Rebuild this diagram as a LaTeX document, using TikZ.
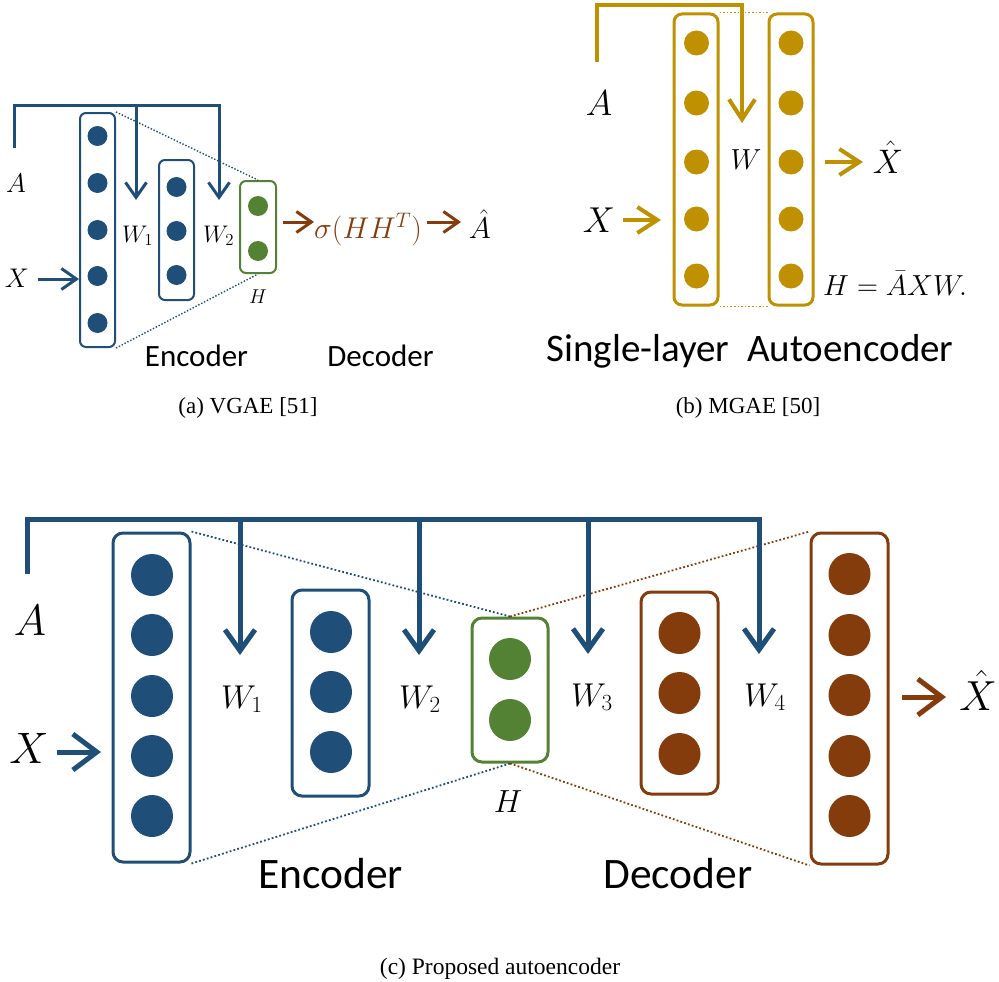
\RequirePackage{fix-cm}
\documentclass[tikz,border=0pt]{standalone}
\usepackage{fontspec}
\usetikzlibrary{arrows.meta}
\newfontfamily\labelfont{Carlito}
\newfontfamily\capfont{Liberation Serif}
\definecolor{nnblue}{RGB}{31,78,121}
\definecolor{nngreen}{RGB}{84,130,53}
\definecolor{nnbrown}{RGB}{132,60,12}
\definecolor{nngold}{RGB}{191,144,0}
\newcommand\fsz[1]{\fontsize{#1}{#1}\selectfont}

\tikzset{
  layerbox/.style={draw, rounded corners=#1, inner sep=0pt},
  unit/.style={circle, inner sep=0pt, draw=none},
  dotlink/.style={line width=1.8, dash pattern=on 1.8pt off 2.2pt},
  mlab/.style={inner sep=0pt, anchor=base},
  bus/.style={line join=miter, line cap=butt},
  tipa/.style={-{Straight Barb[length=15pt,width=21pt]}},
  tipb/.style={-{Straight Barb[length=20pt,width=26pt]}},
  tipc/.style={-{Straight Barb[length=21pt,width=30pt]}},
  tipcx/.style={-{Straight Barb[length=24pt,width=36pt]}},
}

\begin{document}
\begin{tikzpicture}[x=1pt,y=-1pt]
\useasboundingbox (0,0) rectangle (999,982);

% ---------------- (a) VGAE ----------------
\node[layerbox=6, nnblue, line width=2, minimum width=35, minimum height=234] (a1) at (97.5,230) {};
\foreach \yy in {136,183,230,276,323} \node[unit, fill=nnblue, minimum size=20] at (97.5,\yy) {};
\node[layerbox=6, nnblue, line width=2, minimum width=35, minimum height=140] (a2) at (176.5,230) {};
\foreach \yy in {187,231,275} \node[unit, fill=nnblue, minimum size=20] at (176.5,\yy) {};
\node[layerbox=6, nngreen, line width=2, minimum width=36, minimum height=92] (a3) at (258,227) {};
\foreach \yy in {206,251} \node[unit, fill=nngreen, minimum size=20] at (258,\yy) {};

\draw[dotlink, nnblue, line width=1.4, dash pattern=on 1.4pt off 1.8pt] (a1.north east) -- (a3.north);
\draw[dotlink, nnblue, line width=1.4, dash pattern=on 1.4pt off 1.8pt] (a1.south east) -- (a3.south);

\coordinate (aA) at (14,148);
\coordinate (aR) at (219,105);
\coordinate (aB1) at (136,105);
\coordinate (aT1) at (136,200);
\coordinate (aT2) at (219,200);
\draw[nnblue, line width=3, bus, tipa] (aA) |- (aR) -- (aT2);
\draw[nnblue, line width=3, bus, tipa] (aB1) -- (aT1);

\node[mlab] (aAl) at (16,192) {\fsz{27}$A$};
\node[mlab] (aXl) at (17,287) {\fsz{27}$X$};
\coordinate (aXs) at (38,279);
\draw[nnblue, line width=3, tipa] (aXs) -- (a1.west |- aXs);
\node[mlab, anchor=base west] (aW1) at (122,242) {\fsz{24}$W_1$};
\node[mlab, anchor=base west] (aW2) at (203,242) {\fsz{24}$W_2$};
\node[mlab] (aH) at (258,303) {\fsz{20}$H$};

\node[mlab, anchor=base west, nnbrown] (sig) at (314,238) {\fsz{30}$\sigma(HH^T)$};
\coordinate (aO1) at (283,222);
\draw[nnbrown, line width=3, tipa] (aO1) -- (sig.west |- aO1);
\node[mlab] (aAh) at (480,238) {\fsz{30}$\hat{A}$};
\coordinate (aO2) at (427,222);
\coordinate (aO3) at (461,222);
\draw[nnbrown, line width=3, tipa] (aO2) -- (aO3);

\node[mlab] (aEnc) at (196.5,366) {\labelfont\fsz{31}Encoder};
\node[mlab] (aDec) at (380.5,366) {\labelfont\fsz{31}Decoder};
\node[mlab] (capa) at (248,413) {\capfont\fsz{23}(a) VGAE [51]};

% ---------------- (b) MGAE ----------------
\node[layerbox=8, nngold, line width=3, minimum width=44, minimum height=291] (b1) at (696,159.5) {};
\node[layerbox=8, nngold, line width=3, minimum width=44, minimum height=291] (b2) at (791,159.5) {};
\foreach \yy in {43,103,162,219,276} {
  \node[unit, fill=nngold, minimum size=25] at (696.5,\yy) {};
  \node[unit, fill=nngold, minimum size=25] at (791,\yy) {};
}
\draw[dotlink, nngold, line width=1.6, dash pattern=on 1.6pt off 2pt] (b1.north east) -- (b2.north west);
\draw[dotlink, nngold, line width=1.6, dash pattern=on 1.6pt off 2pt] (b1.south east) -- (b2.south west);

\coordinate (bA) at (597,62);
\coordinate (bR) at (742,5);
\coordinate (bT) at (742,123);
\draw[nngold, line width=4, bus, tipb] (bA) |- (bR) -- (bT);

\node[mlab] (bAl) at (599,115) {\fsz{36}$A$};
\node[mlab] (bXl) at (599,232) {\fsz{36}$X$};
\coordinate (bXs) at (623,220);
\draw[nngold, line width=4, tipb] (bXs) -- (661,220);
\node[mlab] (bW) at (746,169) {\fsz{29}$W$};
\coordinate (bOs) at (825,162);
\coordinate (bOe) at (863,162);
\draw[nngold, line width=4, tipb] (bOs) -- (bOe);
\node[mlab] (bXh) at (888,173) {\fsz{34}$\hat{X}$};
\node[mlab, anchor=base west] (bH) at (823,295) {\fsz{29}$H=\bar{A}XW.$};

\node[mlab] (bSL) at (750,361) {\labelfont\fsz{39}Single-layer\hspace{0.45em}Autoencoder};
\node[mlab] (capb) at (748,413) {\capfont\fsz{23}(b) MGAE [50]};

% ---------------- (c) proposed ----------------
\node[layerbox=10, nnblue, line width=3, minimum width=77, minimum height=329] (c1) at (151.5,697.5) {};
\foreach \yy in {575,635,696,756,816} \node[unit, fill=nnblue, minimum size=42] at (152,\yy) {};
\node[layerbox=10, nnblue, line width=3, minimum width=77, minimum height=206] (c2) at (330.5,693) {};
\foreach \yy in {632,692,752} \node[unit, fill=nnblue, minimum size=42] at (331,\yy) {};
\node[layerbox=10, nngreen, line width=3, minimum width=76, minimum height=144] (c3) at (510,690) {};
\foreach \yy in {659,720} \node[unit, fill=nngreen, minimum size=42] at (510,\yy) {};
\node[layerbox=10, nnbrown, line width=3, minimum width=77, minimum height=202] (c4) at (679.5,693) {};
\foreach \yy in {633,693,754} \node[unit, fill=nnbrown, minimum size=42] at (679.5,\yy) {};
\node[layerbox=10, nnbrown, line width=3, minimum width=77, minimum height=331] (c5) at (849.5,698.5) {};
\foreach \yy in {574,635,695,756,816} \node[unit, fill=nnbrown, minimum size=42] at (849.5,\yy) {};

\draw[dotlink, nnblue] (c1.north east) -- (c3.north);
\draw[dotlink, nnblue] (c1.south east) -- (c3.south);
\draw[dotlink, nnbrown] (c3.north) -- (c5.north west);
\draw[dotlink, nnbrown] (c3.south) -- (c5.south west);

\coordinate (cA) at (27,574);
\coordinate (cR) at (759,519);
\coordinate (cB1) at (240,519);
\coordinate (cB2) at (419,519);
\coordinate (cB3) at (588,519);
\coordinate (cT1) at (240,655);
\coordinate (cT2) at (419,655);
\coordinate (cT3) at (588,654);
\coordinate (cT4) at (759,654);
\draw[nnblue, line width=5, bus, tipc] (cA) |- (cR) -- (cT4);
\draw[nnblue, line width=5, bus, tipc] (cB1) -- (cT1);
\draw[nnblue, line width=5, bus, tipc] (cB2) -- (cT2);
\draw[nnblue, line width=5, bus, tipc] (cB3) -- (cT3);

\node[mlab] (cAl) at (30,635) {\fsz{44}$A$};
\node[mlab] (cXl) at (29,763) {\fsz{44}$X$};
\coordinate (cXs) at (57,752);
\draw[nnblue, line width=5, tipcx] (cXs) -- (101,752);
\node[mlab, anchor=base west] (cW1) at (221,708) {\fsz{33}$W_1$};
\node[mlab, anchor=base west] (cW2) at (399,708) {\fsz{33}$W_2$};
\node[mlab, anchor=base west] (cW3) at (571,706) {\fsz{33}$W_3$};
\node[mlab, anchor=base west] (cW4) at (744,706) {\fsz{33}$W_4$};
\node[mlab] (cH) at (508,812) {\fsz{32}$H$};
\coordinate (cOs) at (902,697);
\coordinate (cOe) at (946,697);
\draw[nnbrown, line width=5, tipcx] (cOs) -- (cOe);
\node[mlab] (cXh) at (978,710) {\fsz{42}$\hat{X}$};

\node[mlab] (cEnc) at (330.5,888) {\labelfont\fsz{43.5}Encoder};
\node[mlab] (cDec) at (678,888) {\labelfont\fsz{43.5}Decoder};
\node[mlab] (capc) at (500,974) {\capfont\fsz{23.5}(c) Proposed autoencoder};
\end{tikzpicture}
\end{document}
